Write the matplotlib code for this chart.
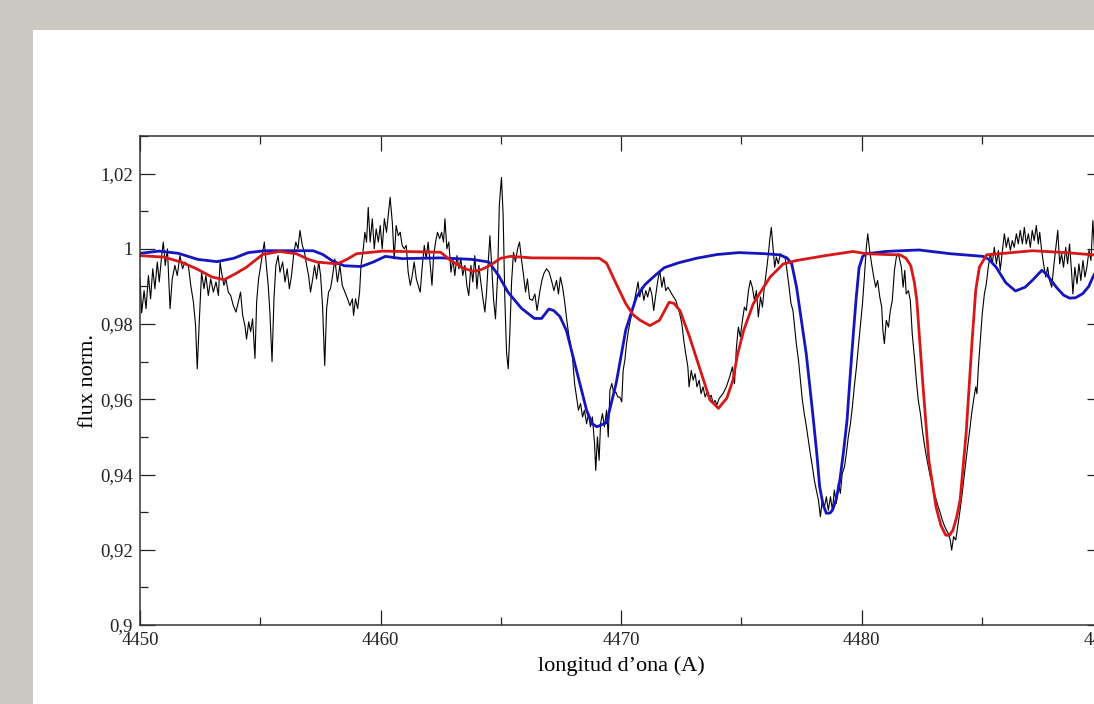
import matplotlib
matplotlib.use("Agg")
import matplotlib.pyplot as plt
from matplotlib.patches import Rectangle
from matplotlib.ticker import FixedLocator, MultipleLocator, FuncFormatter

plt.rcParams['font.family'] = ['Liberation Serif', 'DejaVu Serif']

# observed spectrum (black)
obs_wl = [
    4450.00, 4450.07, 4450.17, 4450.25, 4450.35, 4450.44, 4450.53, 4450.62, 4450.72, 4450.80,
    4450.90, 4450.97, 4451.05, 4451.14, 4451.25, 4451.34, 4451.45, 4451.55, 4451.66, 4451.77,
    4451.87, 4452.01, 4452.11, 4452.22, 4452.31, 4452.38, 4452.47, 4452.56, 4452.66, 4452.74,
    4452.84, 4452.94, 4453.05, 4453.16, 4453.26, 4453.33, 4453.39, 4453.49, 4453.57, 4453.67,
    4453.77, 4453.88, 4453.99, 4454.09, 4454.18, 4454.27, 4454.36, 4454.43, 4454.52, 4454.60,
    4454.68, 4454.78, 4454.85, 4454.93, 4455.02, 4455.10, 4455.17, 4455.24, 4455.33, 4455.40,
    4455.49, 4455.57, 4455.65, 4455.74, 4455.82, 4455.93, 4456.03, 4456.12, 4456.21, 4456.30,
    4456.40, 4456.48, 4456.57, 4456.65, 4456.75, 4456.84, 4456.93, 4457.01, 4457.09, 4457.18,
    4457.26, 4457.34, 4457.43, 4457.51, 4457.59, 4457.68, 4457.76, 4457.84, 4457.92, 4458.01,
    4458.10, 4458.21, 4458.31, 4458.41, 4458.52, 4458.63, 4458.73, 4458.83, 4458.88, 4458.96,
    4459.05, 4459.13, 4459.19, 4459.27, 4459.35, 4459.42, 4459.49, 4459.57, 4459.66, 4459.74,
    4459.82, 4459.91, 4459.99, 4460.07, 4460.16, 4460.25, 4460.32, 4460.40, 4460.49, 4460.57,
    4460.65, 4460.74, 4460.82, 4460.90, 4460.99, 4461.07, 4461.15, 4461.24, 4461.32, 4461.40,
    4461.49, 4461.57, 4461.65, 4461.74, 4461.82, 4461.90, 4461.98, 4462.07, 4462.14, 4462.21,
    4462.29, 4462.37, 4462.46, 4462.54, 4462.62, 4462.68, 4462.76, 4462.84, 4462.93, 4463.01,
    4463.09, 4463.18, 4463.26, 4463.34, 4463.42, 4463.51, 4463.59, 4463.67, 4463.76, 4463.84,
    4463.92, 4464.01, 4464.09, 4464.17, 4464.26, 4464.34, 4464.41, 4464.48, 4464.55, 4464.62,
    4464.70, 4464.78, 4464.87, 4464.94, 4465.03, 4465.10, 4465.17, 4465.24, 4465.31, 4465.38,
    4465.45, 4465.53, 4465.61, 4465.70, 4465.78, 4465.86, 4465.95, 4466.03, 4466.11, 4466.20,
    4466.32, 4466.42, 4466.51, 4466.63, 4466.71, 4466.79, 4466.90, 4467.01, 4467.11, 4467.21,
    4467.32, 4467.40, 4467.48, 4467.57, 4467.65, 4467.73, 4467.82, 4467.90, 4467.98, 4468.07,
    4468.15, 4468.23, 4468.32, 4468.40, 4468.48, 4468.57, 4468.65, 4468.73, 4468.81, 4468.90,
    4468.95, 4469.02, 4469.09, 4469.15, 4469.23, 4469.31, 4469.40, 4469.47, 4469.54, 4469.62,
    4469.70, 4469.78, 4469.87, 4469.95, 4470.03, 4470.09, 4470.16, 4470.23, 4470.31, 4470.39,
    4470.48, 4470.56, 4470.64, 4470.71, 4470.78, 4470.86, 4470.95, 4471.03, 4471.11, 4471.20,
    4471.28, 4471.36, 4471.45, 4471.53, 4471.61, 4471.70, 4471.78, 4471.86, 4471.95, 4472.03,
    4472.11, 4472.19, 4472.28, 4472.36, 4472.44, 4472.53, 4472.61, 4472.69, 4472.78, 4472.83,
    4472.92, 4473.00, 4473.08, 4473.16, 4473.25, 4473.33, 4473.41, 4473.50, 4473.58, 4473.66,
    4473.75, 4473.83, 4473.91, 4473.99, 4474.08, 4474.24, 4474.38, 4474.52, 4474.63, 4474.72,
    4474.80, 4474.88, 4474.96, 4475.05, 4475.13, 4475.21, 4475.30, 4475.38, 4475.46, 4475.55,
    4475.63, 4475.71, 4475.80, 4475.88, 4475.96, 4476.05, 4476.13, 4476.18, 4476.25, 4476.32,
    4476.39, 4476.46, 4476.54, 4476.63, 4476.74, 4476.82, 4476.90, 4476.99, 4477.07, 4477.15,
    4477.22, 4477.29, 4477.38, 4477.46, 4477.54, 4477.62, 4477.71, 4477.79, 4477.87, 4477.96,
    4478.04, 4478.12, 4478.21, 4478.29, 4478.37, 4478.46, 4478.54, 4478.62, 4478.71, 4478.79,
    4478.87, 4478.95, 4479.04, 4479.12, 4479.20, 4479.29, 4479.37, 4479.45, 4479.54, 4479.62,
    4479.70, 4479.79, 4479.87, 4479.95, 4480.04, 4480.12, 4480.20, 4480.26, 4480.34, 4480.42,
    4480.51, 4480.59, 4480.67, 4480.76, 4480.84, 4480.89, 4480.95, 4481.03, 4481.12, 4481.20,
    4481.28, 4481.37, 4481.45, 4481.53, 4481.66, 4481.73, 4481.80, 4481.86, 4481.95, 4482.03,
    4482.11, 4482.20, 4482.28, 4482.36, 4482.45, 4482.53, 4482.61, 4482.70, 4482.78, 4482.86,
    4482.95, 4483.03, 4483.11, 4483.19, 4483.28, 4483.36, 4483.44, 4483.53, 4483.61, 4483.69,
    4483.75, 4483.83, 4483.92, 4484.00, 4484.08, 4484.17, 4484.25, 4484.33, 4484.41, 4484.50,
    4484.58, 4484.66, 4484.75, 4484.80, 4484.86, 4484.94, 4485.02, 4485.11, 4485.19, 4485.27,
    4485.36, 4485.44, 4485.52, 4485.61, 4485.69, 4485.77, 4485.86, 4485.94, 4486.02, 4486.10,
    4486.19, 4486.27, 4486.35, 4486.44, 4486.52, 4486.60, 4486.69, 4486.77, 4486.85, 4486.94,
    4487.02, 4487.10, 4487.18, 4487.27, 4487.35, 4487.41, 4487.49, 4487.57, 4487.66, 4487.74,
    4487.82, 4487.91, 4487.99, 4488.07, 4488.16, 4488.24, 4488.32, 4488.40, 4488.49, 4488.57,
    4488.65, 4488.74, 4488.79, 4488.87, 4488.96, 4489.04, 4489.12, 4489.21, 4489.29, 4489.37,
    4489.46, 4489.54, 4489.62, 4489.69, 4489.80, 4490.00,
]
obs_flux = [
    0.9921, 0.9830, 0.9889, 0.9841, 0.9929, 0.9867, 0.9947, 0.9894, 0.9965, 0.9912,
    0.9982, 1.0018, 0.9956, 1.0000, 0.9841, 0.9920, 0.9956, 0.9929, 0.9982, 0.9947,
    0.9965, 0.9956, 0.9903, 0.9859, 0.9797, 0.9681, 0.9814, 0.9938, 0.9894, 0.9929,
    0.9876, 0.9920, 0.9885, 0.9912, 0.9876, 0.9965, 0.9938, 0.9903, 0.9920, 0.9885,
    0.9876, 0.9849, 0.9832, 0.9859, 0.9885, 0.9823, 0.9797, 0.9760, 0.9806, 0.9780,
    0.9814, 0.9709, 0.9859, 0.9920, 0.9956, 0.9991, 1.0018, 0.9965, 0.9903, 0.9832,
    0.9700, 0.9867, 0.9956, 0.9982, 0.9938, 0.9965, 0.9912, 0.9947, 0.9894, 0.9929,
    0.9991, 1.0018, 1.0000, 1.0049, 1.0009, 0.9991, 0.9956, 0.9929, 0.9885, 0.9920,
    0.9956, 0.9920, 0.9965, 0.9929, 0.9849, 0.9690, 0.9841, 0.9885, 0.9894, 0.9929,
    0.9973, 0.9912, 0.9956, 0.9903, 0.9885, 0.9867, 0.9849, 0.9867, 0.9823, 0.9867,
    0.9841, 0.9885, 0.9956, 0.9991, 1.0044, 1.0018, 1.0110, 1.0018, 1.0080, 1.0000,
    1.0053, 1.0018, 1.0062, 1.0000, 1.0080, 1.0044, 1.0088, 1.0137, 1.0071, 0.9973,
    1.0062, 1.0035, 1.0044, 1.0009, 1.0000, 1.0009, 0.9938, 0.9903, 0.9929, 0.9965,
    0.9920, 0.9903, 0.9885, 0.9956, 1.0009, 0.9973, 1.0018, 0.9956, 0.9903, 0.9982,
    1.0018, 1.0044, 1.0027, 1.0044, 1.0018, 1.0080, 1.0000, 1.0018, 0.9938, 0.9973,
    0.9929, 0.9982, 0.9947, 0.9973, 0.9929, 0.9956, 0.9903, 0.9876, 0.9956, 0.9912,
    0.9982, 0.9894, 0.9956, 0.9912, 0.9867, 0.9832, 0.9885, 0.9965, 1.0035, 0.9956,
    0.9867, 0.9814, 0.9929, 1.0115, 1.0190, 1.0088, 0.9867, 0.9726, 0.9681, 0.9780,
    0.9912, 0.9991, 0.9965, 1.0000, 1.0018, 0.9973, 0.9929, 0.9885, 0.9920, 0.9867,
    0.9863, 0.9880, 0.9836, 0.9889, 0.9916, 0.9934, 0.9947, 0.9938, 0.9916, 0.9889,
    0.9916, 0.9880, 0.9925, 0.9898, 0.9863, 0.9819, 0.9774, 0.9748, 0.9713, 0.9642,
    0.9606, 0.9571, 0.9589, 0.9553, 0.9571, 0.9535, 0.9562, 0.9527, 0.9553, 0.9482,
    0.9411, 0.9500, 0.9438, 0.9535, 0.9562, 0.9527, 0.9571, 0.9500, 0.9624, 0.9642,
    0.9615, 0.9620, 0.9606, 0.9606, 0.9593, 0.9677, 0.9704, 0.9748, 0.9783, 0.9810,
    0.9836, 0.9863, 0.9889, 0.9912, 0.9872, 0.9898, 0.9863, 0.9889, 0.9872, 0.9898,
    0.9880, 0.9836, 0.9880, 0.9916, 0.9943, 0.9898, 0.9925, 0.9889, 0.9898, 0.9889,
    0.9880, 0.9872, 0.9863, 0.9845, 0.9828, 0.9801, 0.9757, 0.9722, 0.9686, 0.9633,
    0.9677, 0.9651, 0.9668, 0.9633, 0.9651, 0.9615, 0.9633, 0.9606, 0.9620, 0.9602,
    0.9611, 0.9589, 0.9597, 0.9585, 0.9602, 0.9615, 0.9633, 0.9660, 0.9686, 0.9642,
    0.9739, 0.9792, 0.9766, 0.9810, 0.9845, 0.9836, 0.9889, 0.9916, 0.9898, 0.9863,
    0.9889, 0.9819, 0.9872, 0.9845, 0.9898, 0.9943, 0.9987, 1.0022, 1.0057, 1.0004,
    0.9951, 0.9978, 0.9960, 0.9987, 0.9978, 0.9978, 0.9943, 0.9898, 0.9854, 0.9836,
    0.9792, 0.9748, 0.9704, 0.9650, 0.9598, 0.9562, 0.9527, 0.9491, 0.9456, 0.9420,
    0.9385, 0.9359, 0.9332, 0.9288, 0.9332, 0.9314, 0.9341, 0.9305, 0.9341, 0.9305,
    0.9359, 0.9323, 0.9376, 0.9350, 0.9403, 0.9420, 0.9456, 0.9500, 0.9535, 0.9580,
    0.9633, 0.9686, 0.9739, 0.9792, 0.9854, 0.9925, 1.0004, 1.0040, 0.9995, 0.9960,
    0.9925, 0.9898, 0.9916, 0.9872, 0.9845, 0.9783, 0.9748, 0.9810, 0.9792, 0.9836,
    0.9863, 0.9943, 0.9978, 0.9987, 0.9951, 0.9898, 0.9943, 0.9880, 0.9889, 0.9863,
    0.9774, 0.9713, 0.9650, 0.9598, 0.9562, 0.9518, 0.9482, 0.9447, 0.9420, 0.9394,
    0.9376, 0.9350, 0.9332, 0.9314, 0.9297, 0.9279, 0.9265, 0.9252, 0.9243, 0.9226,
    0.9199, 0.9235, 0.9226, 0.9261, 0.9297, 0.9341, 0.9385, 0.9429, 0.9473, 0.9518,
    0.9562, 0.9598, 0.9633, 0.9615, 0.9686, 0.9757, 0.9827, 0.9880, 0.9907, 0.9951,
    0.9987, 0.9960, 1.0004, 0.9960, 0.9996, 0.9943, 0.9996, 1.0040, 1.0004, 1.0030,
    0.9996, 1.0022, 1.0004, 1.0040, 1.0013, 1.0049, 1.0013, 1.0057, 1.0013, 1.0040,
    1.0004, 1.0049, 1.0022, 1.0062, 1.0013, 1.0044, 0.9996, 0.9960, 0.9925, 0.9951,
    0.9916, 0.9898, 0.9951, 0.9996, 1.0049, 0.9960, 0.9987, 0.9951, 1.0004, 0.9960,
    1.0013, 0.9934, 0.9880, 0.9951, 0.9907, 0.9960, 0.9916, 0.9969, 0.9925, 0.9951,
    0.9996, 0.9969, 1.0075, 0.9996, 0.9980, 0.9990,
]

# model 1 (blue)
blue_wl = [
    4450.0, 4450.8, 4451.6, 4452.4, 4453.2, 4453.9, 4454.5, 4455.2, 4457.2, 4457.6,
    4458.0, 4458.5, 4459.2, 4459.7, 4460.2, 4460.9, 4462.5, 4463.8, 4464.5, 4464.9,
    4465.3, 4465.86, 4466.4, 4466.7, 4467.0, 4467.2, 4467.46, 4467.73, 4468.15, 4468.57,
    4468.8, 4469.0, 4469.4, 4469.8, 4470.2, 4470.64, 4471.0, 4471.34, 4471.8, 4472.4,
    4473.14, 4474.0, 4474.9, 4476.0, 4476.6, 4476.9, 4477.1, 4477.3, 4477.5, 4477.7,
    4477.85, 4478.0, 4478.15, 4478.26, 4478.4, 4478.54, 4478.7, 4478.8, 4478.95, 4479.1,
    4479.25, 4479.4, 4479.52, 4479.65, 4479.78, 4479.9, 4480.05, 4480.2, 4481.0, 4482.0,
    4482.4, 4483.7, 4485.05, 4485.3, 4485.6, 4486.0, 4486.4, 4486.8, 4487.1, 4487.5,
    4487.7, 4488.1, 4488.4, 4488.65, 4488.9, 4489.2, 4489.45, 4489.65, 4490.0,
]
blue_flux = [
    0.9988, 0.9994, 0.9988, 0.9972, 0.9966, 0.9975, 0.9990, 0.9995, 0.9995, 0.9985,
    0.9968, 0.9955, 0.9953, 0.9965, 0.9980, 0.9974, 0.9976, 0.9972, 0.9965, 0.9930,
    0.9885, 0.9842, 0.9815, 0.9815, 0.9840, 0.9836, 0.9820, 0.9783, 0.9677, 0.9571,
    0.9535, 0.9527, 0.9538, 0.9643, 0.9785, 0.9872, 0.9905, 0.9925, 0.9950, 0.9963,
    0.9975, 0.9985, 0.9990, 0.9987, 0.9984, 0.9976, 0.9960, 0.9898, 0.9810, 0.9722,
    0.9635, 0.9545, 0.9450, 0.9368, 0.9320, 0.9297, 0.9298, 0.9306, 0.9335, 0.9385,
    0.9460, 0.9545, 0.9655, 0.9766, 0.9870, 0.9950, 0.9980, 0.9987, 0.9993, 0.9996,
    0.9997, 0.9987, 0.9980, 0.9972, 0.9951, 0.9910, 0.9888, 0.9898, 0.9916, 0.9943,
    0.9932, 0.9898, 0.9877, 0.9869, 0.9870, 0.9881, 0.9900, 0.9929, 0.9965,
]

# model 2 (red)
red_wl = [
    4450.0, 4451.0, 4451.7, 4452.35, 4453.0, 4453.5, 4454.0, 4454.4, 4455.1, 4455.8,
    4456.5, 4457.0, 4457.35, 4458.2, 4458.6, 4459.0, 4460.1, 4462.5, 4462.9, 4463.4,
    4463.85, 4464.2, 4464.55, 4465.0, 4465.4, 4466.3, 4469.1, 4469.4, 4469.8, 4470.2,
    4470.5, 4470.8, 4471.2, 4471.6, 4472.0, 4472.2, 4472.45, 4472.85, 4473.3, 4473.7,
    4474.05, 4474.4, 4474.65, 4474.85, 4475.1, 4475.5, 4475.9, 4476.2, 4476.75, 4477.3,
    4478.5, 4479.65, 4480.2, 4481.0, 4481.6, 4481.85, 4482.05, 4482.2, 4482.3, 4482.55,
    4482.8, 4483.1, 4483.3, 4483.5, 4483.65, 4483.8, 4483.95, 4484.1, 4484.35, 4484.6,
    4484.75, 4484.9, 4485.2, 4487.1, 4488.5, 4490.0,
]
red_flux = [
    0.9982, 0.9978, 0.9965, 0.9947, 0.9925, 0.9918, 0.9935, 0.9950, 0.9985, 0.9993,
    0.9987, 0.9972, 0.9965, 0.9960, 0.9972, 0.9987, 0.9994, 0.9991, 0.9970, 0.9950,
    0.9940, 0.9945, 0.9956, 0.9975, 0.9980, 0.9976, 0.9975, 0.9962, 0.9907, 0.9854,
    0.9825, 0.9810, 0.9796, 0.9810, 0.9858, 0.9855, 0.9836, 0.9766, 0.9677, 0.9598,
    0.9576, 0.9603, 0.9650, 0.9720, 0.9783, 0.9854, 0.9895, 0.9925, 0.9960, 0.9969,
    0.9982, 0.9993, 0.9987, 0.9985, 0.9984, 0.9975, 0.9955, 0.9910, 0.9863, 0.9641,
    0.9438, 0.9314, 0.9265, 0.9239, 0.9238, 0.9252, 0.9285, 0.9332, 0.9509, 0.9757,
    0.9890, 0.9951, 0.9984, 0.9995, 0.9990, 0.9982,
]

y_ticks = [0.90, 0.92, 0.94, 0.96, 0.98, 1.00, 1.02]
x_ticks = [4450, 4460, 4470, 4480, 4490]

W, H = 1094, 704
fig = plt.figure(figsize=(W / 100, H / 100), dpi=100)
fig.patch.set_facecolor('#cbc8c2')
fig.add_artist(Rectangle((33 / W, 0), 1, (H - 30) / H, transform=fig.transFigure,
                         facecolor='white', edgecolor='none', zorder=0))

# axes run past the right edge, as in the cropped original
ax = fig.add_axes([140 / W, (H - 625) / H, (1102 - 140) / W, (625 - 136) / H])
ax.set_facecolor('white')

ax.plot(obs_wl, obs_flux, color='black', lw=0.8)
ax.plot(blue_wl, blue_flux, color='#1414c0', lw=2.0)
ax.plot(red_wl, red_flux, color='#d81818', lw=2.0)

ax.set_xlim(4450, 4490)
ax.set_ylim(0.9, 1.03)

ax.xaxis.set_major_locator(FixedLocator(x_ticks))
ax.xaxis.set_minor_locator(MultipleLocator(5))
ax.yaxis.set_major_locator(FixedLocator(y_ticks))
ax.yaxis.set_minor_locator(MultipleLocator(0.01))
ax.yaxis.set_major_formatter(FuncFormatter(lambda v, p: ('%g' % round(v, 4)).replace('.', ',')))
ax.xaxis.set_major_formatter(FuncFormatter(lambda v, p: '%d' % v))

ax.tick_params(which='both', direction='in', top=True, right=True, width=0.9,
               labelsize=13.5, colors='#222222')
ax.tick_params(which='major', length=11, pad=5)
ax.tick_params(which='minor', length=5.5)
for s in ax.spines.values():
    s.set_linewidth(1.1)
    s.set_color('#333333')

ax.set_xlabel("longitud d\u2019ona (A)", fontsize=16, labelpad=5)
ax.set_ylabel("flux norm.", fontsize=16, labelpad=2)

fig.savefig("out.png", dpi=100, facecolor=fig.get_facecolor())
